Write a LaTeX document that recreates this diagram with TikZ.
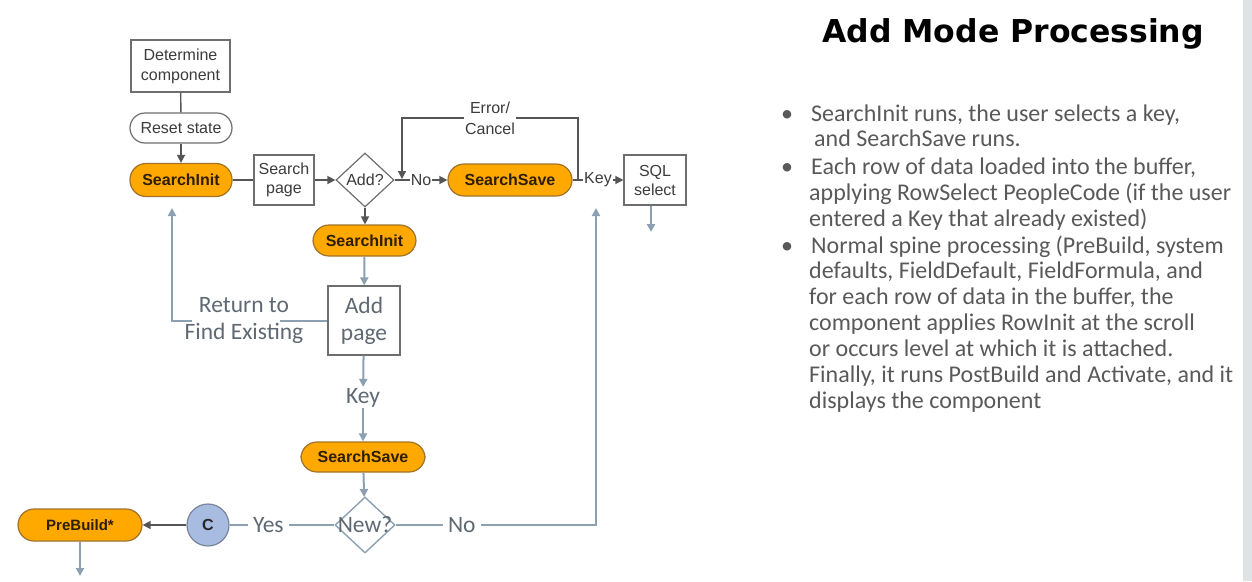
\documentclass[tikz,border=0pt]{standalone}
\usepackage{fontspec}
\usetikzlibrary{shapes.geometric,arrows.meta}
\newfontfamily\arialfam{Liberation Sans}
\newfontfamily\calfam{Carlito}
\newfontfamily\titlefam{DejaVu Sans}
\definecolor{orng}{RGB}{255,168,0}
\definecolor{orngb}{RGB}{160,115,40}
\definecolor{orngt}{RGB}{45,30,0}
\definecolor{dline}{RGB}{85,85,85}
\definecolor{bline}{RGB}{140,160,178}
\definecolor{bgray}{RGB}{110,110,110}
\definecolor{ltxt}{RGB}{60,60,60}
\definecolor{ctxt}{RGB}{95,105,115}
\definecolor{btxt}{RGB}{89,89,89}
\definecolor{cfill}{RGB}{168,188,225}
\definecolor{cbord}{RGB}{120,132,155}
\definecolor{stripc}{RGB}{222,227,230}
\tikzset{
  afont/.style={font=\arialfam\fontsize{16}{20}\selectfont},
  cfont/.style={font=\calfam\fontsize{23.5}{27}\selectfont},
  wbox/.style={draw=bgray, line width=1.2pt, fill=white, inner sep=1pt, align=center, afont, text=ltxt},
  pill/.style={draw=bgray, line width=1.2pt, fill=white, inner sep=1pt, afont, text=ltxt, rounded corners=15pt},
  opill/.style={draw=orngb, line width=1.2pt, fill=orng, inner sep=1pt, text=orngt, font=\arialfam\bfseries\fontsize{16}{18}\selectfont, rounded corners=16pt},
  darr/.style={draw=dline, line width=1.4pt, -{Triangle[length=8pt,width=8pt]}},
  dlin/.style={draw=dline, line width=1.4pt},
  barr/.style={draw=bline, line width=2pt, -{Triangle[length=8pt,width=8pt]}},
  blin/.style={draw=bline, line width=2pt},
  albl/.style={fill=white, inner sep=1pt, afont, text=ltxt},
  clbl/.style={fill=white, inner xsep=5pt, inner ysep=1pt, cfont, text=ctxt},
  bultxt/.style={anchor=base west, inner sep=0pt, font=\calfam\fontsize{24}{26}\selectfont, text=btxt},
}
\begin{document}
\begin{tikzpicture}[x=1pt,y=-1pt]
\useasboundingbox (0,0) rectangle (1252,581);
\fill[stripc] (1243,0) rectangle (1252,581);

% flowchart nodes
\node[wbox, minimum width=99pt, minimum height=52pt] (det) at (180.5,66) {Determine\\component};
\node[pill, minimum width=102pt, minimum height=30pt] (reset) at (181,128) {Reset state};
\node[opill, minimum width=102pt, minimum height=33pt] (si1) at (181,180) {SearchInit};
\node[wbox, minimum width=60pt, minimum height=50pt, font=\arialfam\fontsize{16}{19}\selectfont] (sp) at (284,180) {Search\\page};
\node[diamond, draw=bgray, line width=1.2pt, fill=white, minimum width=58pt, minimum height=54pt, inner sep=0pt, afont, text=ltxt] (add) at (365,180) {Add?};
\node[opill, minimum width=124pt, minimum height=32pt] (ss1) at (510,180) {SearchSave};
\node[wbox, minimum width=62pt, minimum height=50pt, font=\arialfam\fontsize{16}{19}\selectfont] (sql) at (655,180) {SQL\\select};
\node[opill, minimum width=103pt, minimum height=31pt] (si2) at (364.5,240.5) {SearchInit};
\node[wbox, minimum width=72pt, minimum height=69pt, cfont, text=ctxt] (ap) at (364,320.5) {Add\\page};
\node[cfont, text=ctxt, inner sep=1pt] (keyl) at (363,397.5) {Key};
\node[opill, minimum width=124pt, minimum height=30pt] (ss2) at (363,457) {SearchSave};
\node[diamond, draw=bline, line width=1.4pt, fill=white, minimum width=60pt, minimum height=56pt, inner sep=0pt] (new) at (365,525) {};
\node[cfont, text=ctxt, inner sep=0pt] (newt) at (new) {New?};
\node[circle, draw=cbord, line width=1.2pt, fill=cfill, minimum size=42pt, inner sep=0pt, text=black!85, font=\arialfam\bfseries\fontsize{16}{18}\selectfont] (cc) at (208,525) {C};
\node[opill, minimum width=124pt, minimum height=32pt, font=\arialfam\bfseries\fontsize{15}{18}\selectfont] (pb) at (80,525) {PreBuild*};

% helper coordinates
\coordinate (e1) at (578,180);
\coordinate (e2) at (402,179);
\coordinate (etop) at (578,118);
\coordinate (etopl) at (402,118);
\coordinate (sqd) at (651,232);
\coordinate (pbd) at (80,576);
\coordinate (nup) at (596,208);
\coordinate (r1) at (280,319);
\coordinate (r2) at (192,319);
\coordinate (r3) at (172,208);

% connectors
\draw[dlin] (det) -- (reset);
\draw[darr] (reset) -- (si1);
\draw[dlin] (si1) -- (sp);
\draw[darr] (sp) -- (add);
\draw[darr] (add) -- node[albl]{No} (ss1);
\draw[darr] (ss1) -- node[albl]{Key} (sql);
\draw[darr] (e1) -- (etop) -- node[albl, align=center, font=\arialfam\fontsize{16}{21}\selectfont]{Error/\\Cancel} (etopl) -- (e2);
\draw[barr] (sql.south -| sqd) -- (sqd);
\draw[darr] (add.south) -- (si2.north -| add.south);
\draw[barr] (si2) -- (ap);
\draw[barr] (ap) -- (keyl);
\draw[barr] (keyl) -- (ss2);
\draw[barr] (ss2) -- (new);
\draw[blin] (new) -- node[clbl, pos=0.63]{Yes} (cc);
\draw[darr] (cc) -- (pb);
\draw[barr] (pb.south) -- (pbd);
\draw[barr] (new) -- node[clbl, pos=0.33]{No} (new -| nup) -- (nup);
\draw[blin] (ap.west) -- (r1 |- ap.west);
\draw[barr] (r2 |- ap.west) -- (r3 |- ap.west) -- (r3);
\node[cfont, text=ctxt, align=center, inner sep=0pt] (retl) at (244,320.5) {Return to\\Find Existing};

% right text
\node[anchor=base, inner sep=0pt, font=\titlefam\bfseries\fontsize{31.5}{36}\selectfont] (title) at (1013,42) {Add Mode Processing};

\node[bultxt] (b1) at (781,121) {•};
\node[bultxt] (b2) at (781,174) {•};
\node[bultxt] (b3) at (781,253) {•};
\node[bultxt] (l1) at (811,121) {SearchInit runs, the user selects a key,};
\node[bultxt] (l2) at (814,146.7) {and SearchSave runs.};
\node[bultxt] (l3) at (811,174) {Each row of data loaded into the buffer,};
\node[bultxt] (l4) at (809,200) {applying RowSelect PeopleCode (if the user};
\node[bultxt] (l5) at (809,226) {entered a Key that already existed)};
\node[bultxt] (l6) at (811,253) {Normal spine processing (PreBuild, system};
\node[bultxt] (l7) at (809,278) {defaults, FieldDefault, FieldFormula, and};
\node[bultxt] (l8) at (809,304) {for each row of data in the buffer, the};
\node[bultxt] (l9) at (809,330) {component applies RowInit at the scroll};
\node[bultxt] (l10) at (809,356) {or occurs level at which it is attached.};
\node[bultxt] (l11) at (809,382) {Finally, it runs PostBuild and Activate, and it};
\node[bultxt] (l12) at (809,408) {displays the component};
\end{tikzpicture}
\end{document}
